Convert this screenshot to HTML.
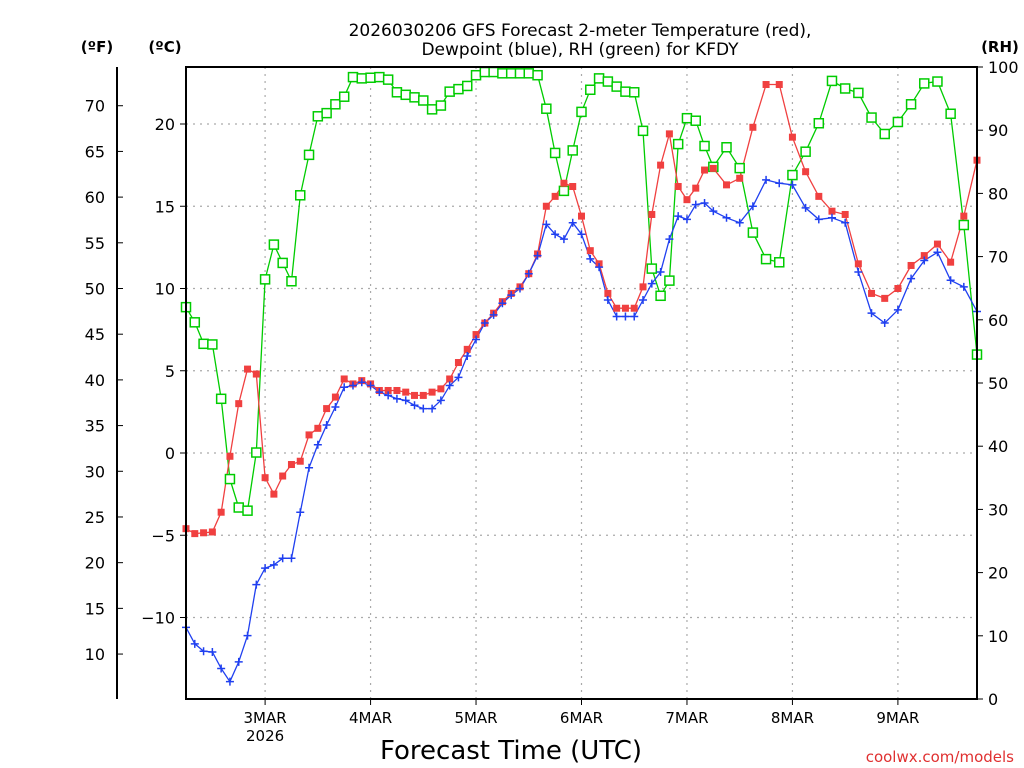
<!DOCTYPE html>
<html><head><meta charset="utf-8"><style>
body{margin:0;background:#fff;width:1024px;height:768px;overflow:hidden}
svg{display:block}
text{font-family:"DejaVu Sans","Liberation Sans",sans-serif}
</style></head><body>
<svg id="chart" width="1024" height="768">
<g id="grid"></g>
<g id="axes"></g>
<g id="series"></g>
<rect x="186" y="67" width="791" height="632" fill="none" stroke="#000" stroke-width="2"/>
<text x="580" y="36" font-size="17" text-anchor="middle">2026030206 GFS Forecast 2-meter Temperature (red),</text>
<text x="580" y="55" font-size="17" text-anchor="middle">Dewpoint (blue), RH (green) for KFDY</text>
<text x="97" y="52" font-size="15" font-weight="bold" text-anchor="middle">(ºF)</text>
<text x="165" y="52" font-size="15" font-weight="bold" text-anchor="middle">(ºC)</text>
<text x="1000" y="52" font-size="15" font-weight="bold" text-anchor="middle">(RH)</text>
<text x="511" y="759" font-size="26" text-anchor="middle">Forecast Time (UTC)</text>
<text x="1014" y="762" font-size="15" fill="#e03030" text-anchor="end">coolwx.com/models</text>
</svg>
<script>
const hours=[0,2,4,6,8,10,12,14,16,18,20,22,24,26,28,30,32,34,36,38,40,42,44,46,48,50,52,54,56,58,60,62,64,66,68,70,72,74,76,78,80,82,84,86,88,90,92,94,96,98,100,102,104,106,108,110,112,114,116,118,120,123,126,129,132,135,138,141,144,147,150,153,156,159,162,165,168,171,174,177,180];
const tempC=[-4.6,-4.9,-4.85,-4.8,-3.6,-0.2,3.0,5.1,4.8,-1.5,-2.5,-1.4,-0.7,-0.5,1.1,1.5,2.7,3.4,4.5,4.2,4.4,4.2,3.8,3.8,3.8,3.7,3.5,3.5,3.7,3.9,4.5,5.5,6.3,7.2,7.9,8.5,9.2,9.7,10.1,10.9,12.1,15.0,15.6,16.4,16.2,14.4,12.3,11.5,9.7,8.8,8.8,8.8,10.1,14.5,17.5,19.4,16.2,15.4,16.1,17.2,17.3,16.3,16.7,19.8,22.4,22.4,19.2,17.1,15.6,14.7,14.5,11.5,9.7,9.4,10.0,11.4,12.0,12.7,11.6,14.4,17.8];
const dewC=[-10.6,-11.6,-12.05,-12.1,-13.1,-13.9,-12.7,-11.1,-8.0,-7.0,-6.8,-6.4,-6.4,-3.6,-0.9,0.5,1.7,2.8,4.0,4.1,4.3,4.1,3.7,3.5,3.3,3.2,2.9,2.7,2.7,3.2,4.1,4.6,5.9,6.9,7.9,8.4,9.1,9.6,10.0,10.9,12.0,13.9,13.3,13.0,14.0,13.3,11.8,11.3,9.3,8.3,8.3,8.3,9.3,10.3,11.0,13.0,14.4,14.2,15.1,15.2,14.7,14.3,14.0,15.0,16.6,16.4,16.3,14.9,14.2,14.3,14.0,11.0,8.5,7.9,8.7,10.6,11.7,12.2,10.5,10.1,8.6];
const rh=[62.0,59.6,56.2,56.1,47.5,34.8,30.3,29.8,39.0,66.4,71.9,69.0,66.1,79.7,86.1,92.2,92.7,94.1,95.3,98.4,98.2,98.3,98.4,98.0,96.0,95.6,95.2,94.7,93.3,93.9,96.1,96.5,97.0,98.7,99.2,99.2,99.0,99.0,99.0,99.0,98.7,93.4,86.4,80.4,86.8,92.9,96.4,98.2,97.7,96.9,96.1,96.0,89.9,68.1,63.8,66.2,87.8,91.9,91.5,87.5,84.2,87.3,84.0,73.8,69.6,69.1,82.9,86.6,91.1,97.8,96.6,95.9,92.0,89.4,91.3,94.1,97.4,97.7,92.6,75.0,54.5];
const cTicks=[20,15,10,5,0,-5,-10];
const fTicks=[70,65,60,55,50,45,40,35,30,25,20,15,10];
const rhTicks=[100,90,80,70,60,50,40,30,20,10,0];
const dayLabels=["3MAR","4MAR","5MAR","6MAR","7MAR","8MAR","9MAR"];
const dayHours=[18,42,66,90,114,138,162];

const X0=186,X1=977,Y0=67,Y1=699,HMAX=180;
const xs=h=>X0+(X1-X0)*h/HMAX;
const yC=c=>453-16.45*c;
const yF=f=>yC((f-32)*5/9);
const yRH=r=>Y1-(Y1-Y0)*r/100;
const NS="http://www.w3.org/2000/svg";
function mk(tag,attrs,parent){const e=document.createElementNS(NS,tag);for(const k in attrs)e.setAttribute(k,attrs[k]);parent.appendChild(e);return e;}
const grid=document.getElementById('grid'),axes=document.getElementById('axes'),ser=document.getElementById('series');

cTicks.forEach(c=>{
  const y=yC(c);
  const g=mk('line',{x1:X0,x2:X1,y1:y,y2:y,stroke:'#aaa','stroke-width':1.2,'stroke-dasharray':'2,5'},grid);
  
  
  const t=mk('line',{x1:X0-6,x2:X0,y1:y,y2:y,stroke:'#000','stroke-width':1},axes);
  
  
  const l=mk('text',{x:175,y:y+6,'font-size':16,'text-anchor':'end'},axes);l.textContent=String(c).replace('-','\u2212');
  
  
});
dayHours.forEach((h,i)=>{
  const x=xs(h);
  const g=mk('line',{x1:x,x2:x,y1:Y0,y2:Y1,stroke:'#aaa','stroke-width':1.2,'stroke-dasharray':'2,5'},grid);
  
  
  const t=mk('line',{x1:x,x2:x,y1:Y1,y2:Y1+6,stroke:'#000','stroke-width':1},axes);
  
  
  const l=mk('text',{x:x,y:723,'font-size':15,'text-anchor':'middle'},axes);l.textContent=dayLabels[i];
  
  
});
const yr=mk('text',{x:xs(18),y:741,'font-size':15,'text-anchor':'middle'},axes);yr.textContent='2026';


const fl=mk('line',{x1:117,x2:117,y1:Y0,y2:Y1,stroke:'#000','stroke-width':2},axes);


fTicks.forEach(f=>{
  const y=yF(f);
  const t=mk('line',{x1:117,x2:123,y1:y,y2:y,stroke:'#000','stroke-width':1},axes);
  
  
  const l=mk('text',{x:105,y:y+6,'font-size':16,'text-anchor':'end'},axes);l.textContent=f;
  
  
});
rhTicks.forEach(r=>{
  const y=yRH(r);
  const t=mk('line',{x1:X1,x2:X1+6,y1:y,y2:y,stroke:'#000','stroke-width':1},axes);
  
  
  const l=mk('text',{x:988,y:y+6,'font-size':16,'text-anchor':'start'},axes);l.textContent=r;
  
  
});

function line(vals,yf,color,name){
  const pts=vals.map((v,i)=>xs(hours[i]).toFixed(1)+','+yf(v).toFixed(1)).join(' ');
  const p=mk('polyline',{points:pts,fill:'none',stroke:color,'stroke-width':1.3},ser);
  
  
}
line(rh,yRH,'#00cc00','rh-line');
line(tempC,yC,'#f04040','temperature-line');
line(dewC,yC,'#2040f0','dewpoint-line');
rh.forEach((v,i)=>{
  const m=mk('rect',{x:xs(hours[i])-4.5,y:yRH(v)-4.5,width:9,height:9,fill:'#fff',stroke:'#00cc00','stroke-width':1.5},ser);
  
  
});
tempC.forEach((v,i)=>{
  const m=mk('rect',{x:xs(hours[i])-3.5,y:yC(v)-3.5,width:7,height:7,fill:'#f04040'},ser);
  
  
});
dewC.forEach((v,i)=>{
  const x=xs(hours[i]),y=yC(v);
  const m=mk('path',{d:`M${x-4},${y}H${x+4}M${x},${y-4}V${y+4}`,stroke:'#2040f0','stroke-width':1.5,fill:'none'},ser);
  
  
});
</script>
</body></html>
